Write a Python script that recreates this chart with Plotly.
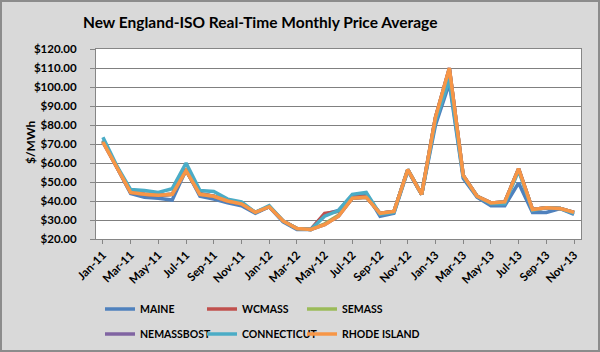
import plotly.graph_objects as go

months = ["Jan-11","Feb-11","Mar-11","Apr-11","May-11","Jun-11","Jul-11","Aug-11","Sep-11","Oct-11","Nov-11","Dec-11",
          "Jan-12","Feb-12","Mar-12","Apr-12","May-12","Jun-12","Jul-12","Aug-12","Sep-12","Oct-12","Nov-12","Dec-12",
          "Jan-13","Feb-13","Mar-13","Apr-13","May-13","Jun-13","Jul-13","Aug-13","Sep-13","Oct-13","Nov-13"]
tick_labels = months[::2]

maine = [72, 58, 44, 42, 41.5, 40.5, 56.5, 42.5, 41, 39, 37.5, 33.5, 37, 29, 25, 25, 33, 35, 43, 44, 32, 33.5,
         56, 43.5, 80, 102, 52, 42, 37.5, 37.5, 49.5, 34, 34, 36, 33]
wcmass = [71.5, 58, 44.5, 43.5, 43, 43.5, 56.5, 44, 42.5, 40, 38.5, 34, 37, 29.5, 25.5, 25, 33.5, 34.5, 42, 42.5, 33.5, 34.5,
          56.5, 43.5, 84, 109.5, 53.5, 42.5, 39, 39.5, 57, 35.5, 36.5, 36, 34]
semass = [71.5, 58, 44.5, 43.5, 43, 43.5, 56, 43.5, 42.5, 40, 38.5, 34, 37, 29.5, 25.5, 25, 28, 32.5, 41.5, 42, 33.5, 34.5,
          56.5, 43.5, 84, 109.5, 53.5, 42.5, 39, 39.5, 57, 35.5, 36.5, 36, 34]
nemassbost = [71, 58, 44.5, 43.5, 43, 43.5, 56, 43.5, 42.5, 40, 38.5, 34, 37, 29.5, 25.5, 25, 27.5, 32, 41.5, 42, 33.5, 34.5,
              56.5, 43.5, 84, 110, 53.5, 42.5, 39, 39.5, 57, 35.5, 36.5, 36, 34]
connecticut = [73.5, 58.5, 46, 45.5, 44.5, 46.5, 60, 45.5, 45, 41, 39.5, 34, 37.5, 29.5, 25.5, 25, 32, 35, 43.5, 44.5, 33, 34,
               56.5, 43.5, 82, 104, 53, 42.5, 38.5, 38.5, 56, 35, 36.5, 36, 33.5]
rhode_island = [71, 58, 44.5, 43.5, 43, 43.5, 56, 43.5, 42.5, 40, 38.5, 34, 37, 29.5, 25.5, 25, 27.5, 32, 41.5, 42, 33.5, 34.5,
                56.5, 43.5, 84, 110, 53.5, 42.5, 39, 39.5, 57, 35.5, 36.5, 36, 34]

series = [
    ("MAINE", maine, "#4F81BD"),
    ("WCMASS", wcmass, "#C0504D"),
    ("SEMASS", semass, "#9BBB59"),
    ("NEMASSBOST", nemassbost, "#8064A2"),
    ("CONNECTICUT", connecticut, "#4BACC6"),
    ("RHODE ISLAND", rhode_island, "#F79646"),
]

W, H = 600, 352
L, R, T, B = 96, 19, 49, 113
pw, ph = W - L - R, H - T - B

def px(x):
    return (x - L) / pw

def py(y):
    return (H - B - y) / ph

FONT = "Lato"
leg_pos = [(100, 309), (202, 309), (302, 309), (100, 334), (202, 334), (302, 334)]

fig = go.Figure()
legend_layouts = {}
for i, (name, vals, color) in enumerate(series):
    key = "legend" if i == 0 else f"legend{i + 1}"
    fig.add_trace(go.Scatter(x=months, y=vals, name=name, mode="lines",
                             line=dict(color=color, width=3.5), legend=key))
    lx, ly = leg_pos[i]
    legend_layouts[key] = dict(orientation="h", x=px(lx), y=py(ly), xanchor="left", yanchor="middle",
                               bgcolor="rgba(0,0,0,0)",
                               font=dict(family=FONT, size=10.5, weight="bold"))

fig.update_layout(
    width=W, height=H,
    margin=dict(l=L, r=R, t=T, b=B, autoexpand=False),
    paper_bgcolor="#D9D9D9",
    plot_bgcolor="#FFFFFF",
    font=dict(family=FONT, color="#000000"),
    showlegend=True,
    xaxis=dict(type="category", range=[-0.5, len(months) - 0.5],
               tickmode="array", tickvals=tick_labels, ticktext=tick_labels,
               tickangle=-45, tickfont=dict(family=FONT, size=11.5, weight="bold"),
               showgrid=False, showline=True, linecolor="#868686", linewidth=1, mirror=True,
               ticks="outside", ticklen=4, tickcolor="#868686", automargin=False),
    yaxis=dict(range=[20, 120], dtick=10, tickprefix="$", tickformat=".2f",
               tickfont=dict(family=FONT, size=11.5, weight="bold"),
               showgrid=True, gridcolor="#808080", gridwidth=1,
               showline=True, linecolor="#868686", linewidth=1, mirror=True,
               ticks="outside", ticklen=5, tickcolor="#868686", ticklabelstandoff=11,
               zeroline=False, automargin=False),
    annotations=[
        dict(text="<b>New England-ISO Real-Time Monthly Price Average</b>", x=px(260), y=py(22),
             xref="paper", yref="paper", xanchor="center", yanchor="middle", showarrow=False,
             font=dict(family=FONT, size=15.5, color="#000000")),
        dict(text="<b>$/MWh</b>", x=px(30), y=py(143), xref="paper", yref="paper",
             xanchor="center", yanchor="middle", showarrow=False, textangle=-90,
             font=dict(family=FONT, size=12, color="#000000")),
    ],
    shapes=[
        dict(type="rect", xref="paper", yref="paper", x0=px(1), x1=px(W - 1), y0=py(H - 1), y1=py(1),
             line=dict(color="#8C8C8C", width=2), layer="below"),
    ],
    **legend_layouts,
)

fig.write_html("out.html")
